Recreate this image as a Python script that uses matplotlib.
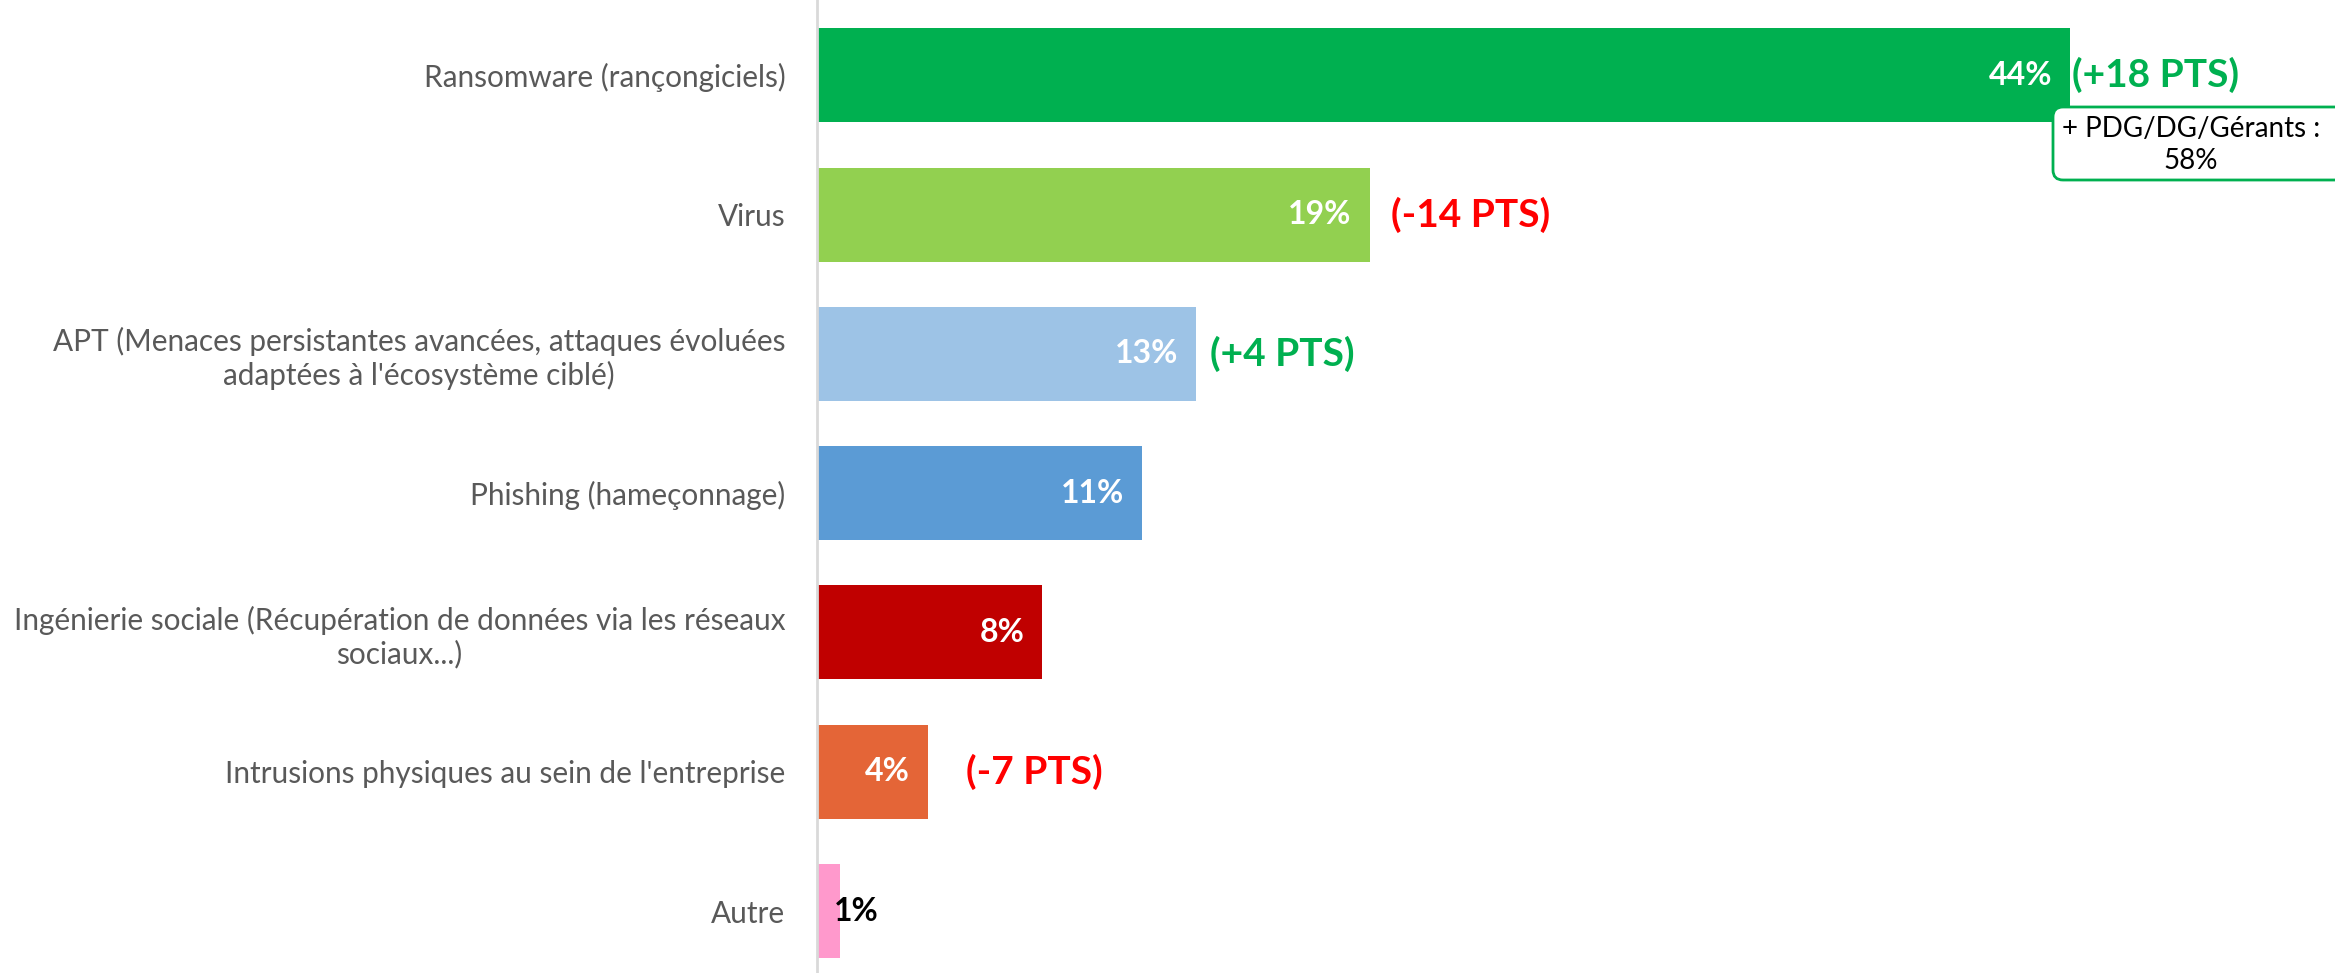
import matplotlib
matplotlib.use("Agg")
import matplotlib.pyplot as plt
from matplotlib.patches import FancyBboxPatch

plt.rcParams['font.family'] = ['Lato', 'DejaVu Sans']

categories = [
    "Ransomware (rançongiciels)",
    "Virus",
    "APT (Menaces persistantes avancées, attaques évoluées\nadaptées à l'écosystème ciblé)",
    "Phishing (hameçonnage)",
    "Ingénierie sociale (Récupération de données via les réseaux\nsociaux...)",
    "Intrusions physiques au sein de l'entreprise",
    "Autre",
]
# bar lengths (labels show rounded values)
values = [44, 19.4, 13.3, 11.4, 7.9, 3.9, 0.8]
bar_colors = ['#00B050', '#92D050', '#9DC3E6', '#5B9BD5', '#C00000', '#E46537', '#FF99CC']
label_colors = ['white', 'white', 'white', 'white', 'white', 'white', 'black']

# evolution vs previous wave (None = no annotation)
changes = ["(+18 PTS)", "(-14 PTS)", "(+4 PTS)", None, None, "(-7 PTS)", None]
change_colors = ['#00B050', '#FF0000', '#00B050', None, None, '#FF0000', None]
change_offsets = [1, 15, 10, None, None, 27, None]  # points from bar end

note_text = "+ PDG/DG/Gérants :\n58%"

fig = plt.figure(figsize=(23.35, 9.73), dpi=100)
ax = fig.add_axes([0.35, 0.0, 0.65, 1.0])

pos = list(range(len(categories)))
ax.barh(pos, values, height=0.675, color=bar_colors, zorder=3)

ax.set_xlim(0, 53.3)
ax.set_ylim(6.445, -0.54)
ax.set_yticks(pos)
ax.set_yticklabels(categories, fontsize=21.4, color='#595959')
for lab in ax.get_yticklabels():
    lab.set_multialignment('center')
ax.tick_params(axis='y', length=0, pad=23)
ax.set_xticks([])
for s in ['top', 'right', 'bottom']:
    ax.spines[s].set_visible(False)
ax.spines['left'].set_color('#D9D9D9')
ax.spines['left'].set_linewidth(2)
ax.spines['left'].set_zorder(4)

for i, v in enumerate(values):
    txt = f"{v:.0f}%"
    if v >= 3:
        ax.annotate(txt, (v, i), xytext=(-13, 0), textcoords='offset points',
                    ha='right', va='center', fontsize=23, fontweight='bold',
                    color=label_colors[i], zorder=5)
    else:
        ax.annotate(txt, (0, i), xytext=(12, 0), textcoords='offset points',
                    ha='left', va='center', fontsize=23, fontweight='bold',
                    color=label_colors[i], zorder=5)
    if changes[i]:
        ax.annotate(changes[i], (v, i), xytext=(change_offsets[i], 0),
                    textcoords='offset points', ha='left', va='center',
                    fontsize=28, fontweight='bold', color=change_colors[i], zorder=5)

# note box under the top bar
box = FancyBboxPatch((2053, 973 - 180), 320, 73, boxstyle="round,pad=0,rounding_size=10",
                     transform=None, facecolor='white', edgecolor='#00B050',
                     linewidth=2, zorder=1)
fig.patches.append(box)
fig.text(2191 / 2335, 1 - 145 / 973, note_text, ha='center', va='center',
         fontsize=20, color='black', linespacing=1.3)

fig.savefig("out.png", dpi=100)
